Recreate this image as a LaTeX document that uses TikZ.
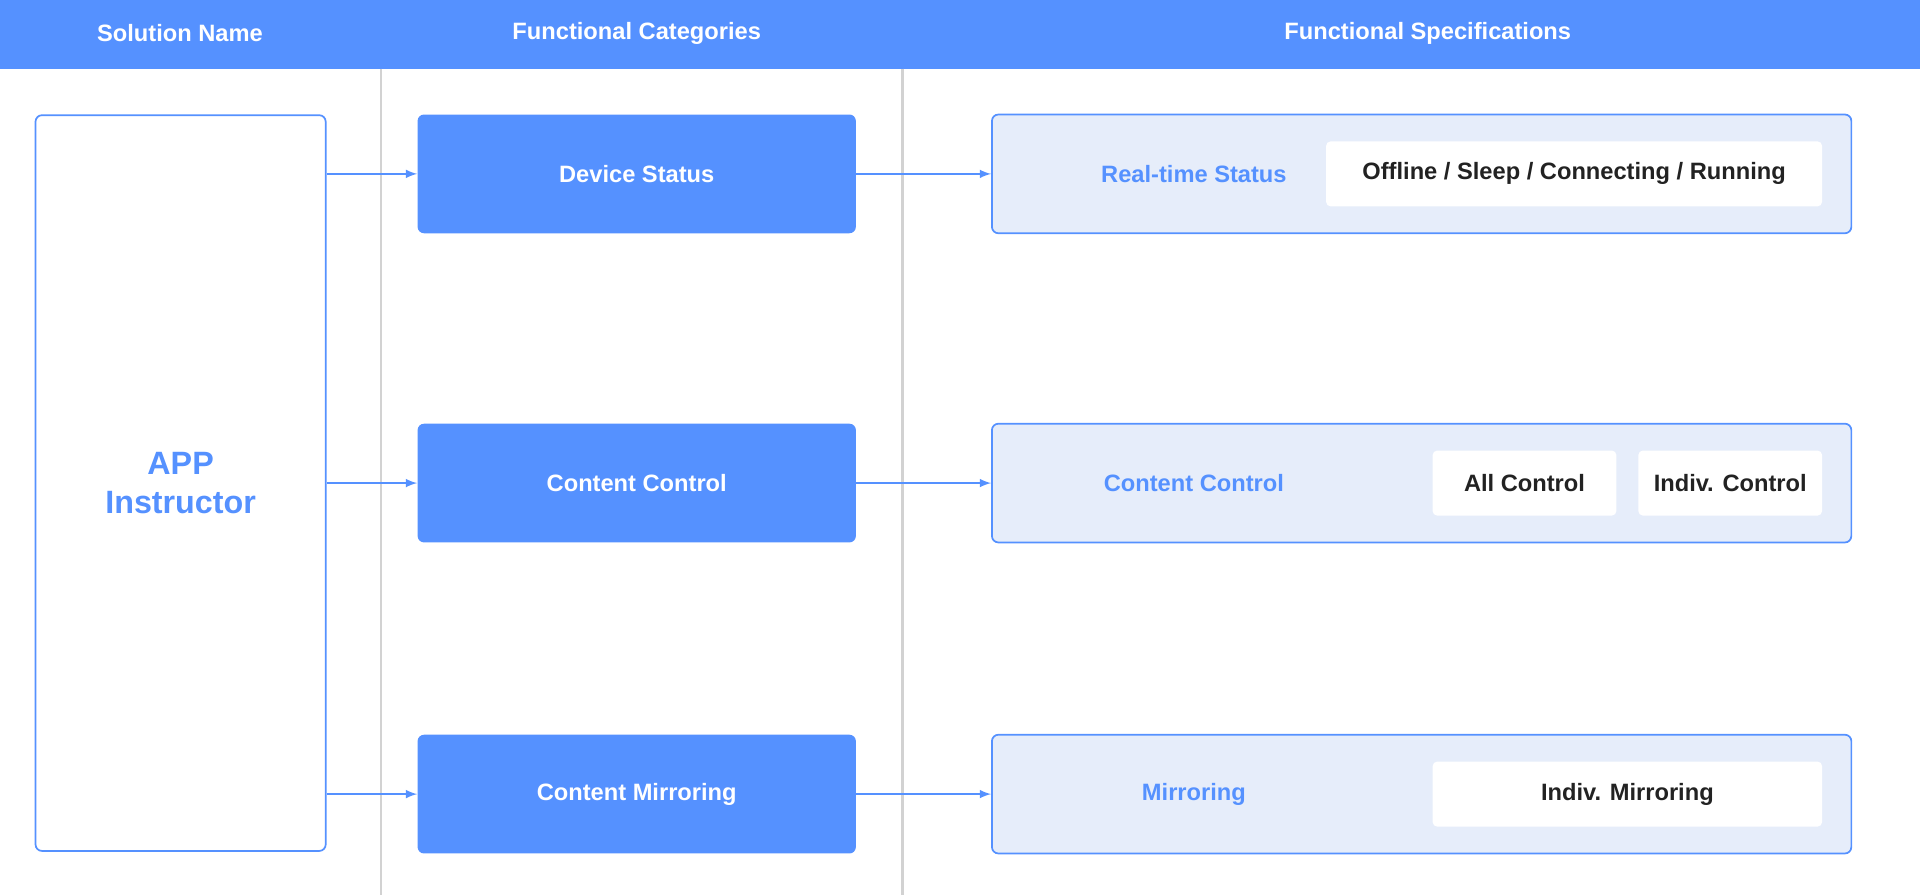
\documentclass[tikz,border=0pt]{standalone}
\usepackage{fontspec}
\setmainfont{Liberation Sans}
\usetikzlibrary{positioning}
\definecolor{appblue}{RGB}{85,145,255}
\definecolor{specfill}{RGB}{230,237,250}
\definecolor{textdark}{RGB}{34,34,34}
\definecolor{rulegray}{RGB}{210,210,210}
\begin{document}
\begin{tikzpicture}[x=0.02cm,y=-0.02cm,
  head/.style={text=white, font=\bfseries\fontsize{11}{13}\selectfont},
  catbox/.style={draw=none, fill=appblue, rounded corners=3pt, minimum width=7.16cm, minimum height=1.94cm, text=white, font=\bfseries\fontsize{11}{13}\selectfont},
  specbox/.style={draw=appblue, fill=specfill, rounded corners=3pt, minimum width=14.04cm, minimum height=1.94cm, line width=0.8pt},
  speclabel/.style={text=appblue, font=\bfseries\fontsize{11}{13}\selectfont},
  item/.style={fill=white, rounded corners=2pt, minimum height=1.06cm, text=textdark, font=\bfseries\fontsize{11}{13}\selectfont},
  arr/.style={draw=appblue, line width=0.8pt, -latex}]
  \useasboundingbox (0,0) rectangle (1568,731);
  % header
  \fill[appblue] (0,0) rectangle (1568,56);
  \node[head] (h1) at (147,27) {Solution Name};
  \node[head] (h2) at (520,27) {Functional Categories};
  \node[head] (h3) at (1166,27) {Functional Specifications};
  \draw[rulegray, line width=1.2pt] (311,56) -- (311,731);
  \draw[rulegray, line width=1.2pt] (737,56) -- (737,731);
  % solution
  \node[draw=appblue, line width=0.8pt, fill=white, rounded corners=3pt, minimum width=4.74cm, minimum height=12.02cm, align=center, text=appblue, font=\bfseries\fontsize{15}{18}\selectfont] (app) at (147.5,394.5) {APP\\Instructor};
  % categories
  \node[catbox] (status) at (520,142) {Device Status};
  \node[catbox] (control) at (520,394.5) {Content Control};
  \node[catbox] (mirror) at (520,648.5) {Content Mirroring};
  % specifications
  \node[specbox] (sstatus) at (1161,142) {};
  \node[specbox] (scontrol) at (1161,394.5) {};
  \node[specbox] (smirror) at (1161,648.5) {};
  \node[speclabel] (lstatus) at (975,142) {Real-time Status};
  \node[speclabel] (lcontrol) at (975,394.5) {Content Control};
  \node[speclabel] (lmirror) at (975,648.5) {Mirroring};
  \node[item, minimum width=8.1cm] (states) at (1285.5,142) {Offline / Sleep / Connecting / Running};
  \node[item, minimum width=3cm] (allctl) at (1245,394.5) {All Control};
  \node[item, minimum width=3cm] (indctl) at (1413,394.5) {Indiv. Control};
  \node[item, minimum width=6.36cm] (indmir) at (1329,648.5) {Indiv. Mirroring};
  % arrows
  \foreach \src/\dst in {status/sstatus, control/scontrol, mirror/smirror}
    \draw[arr] (\src) -- (\dst);
  \draw[arr] (app.east |- status) -- (status);
  \draw[arr] (app.east |- control) -- (control);
  \draw[arr] (app.east |- mirror) -- (mirror);
\end{tikzpicture}
\end{document}
